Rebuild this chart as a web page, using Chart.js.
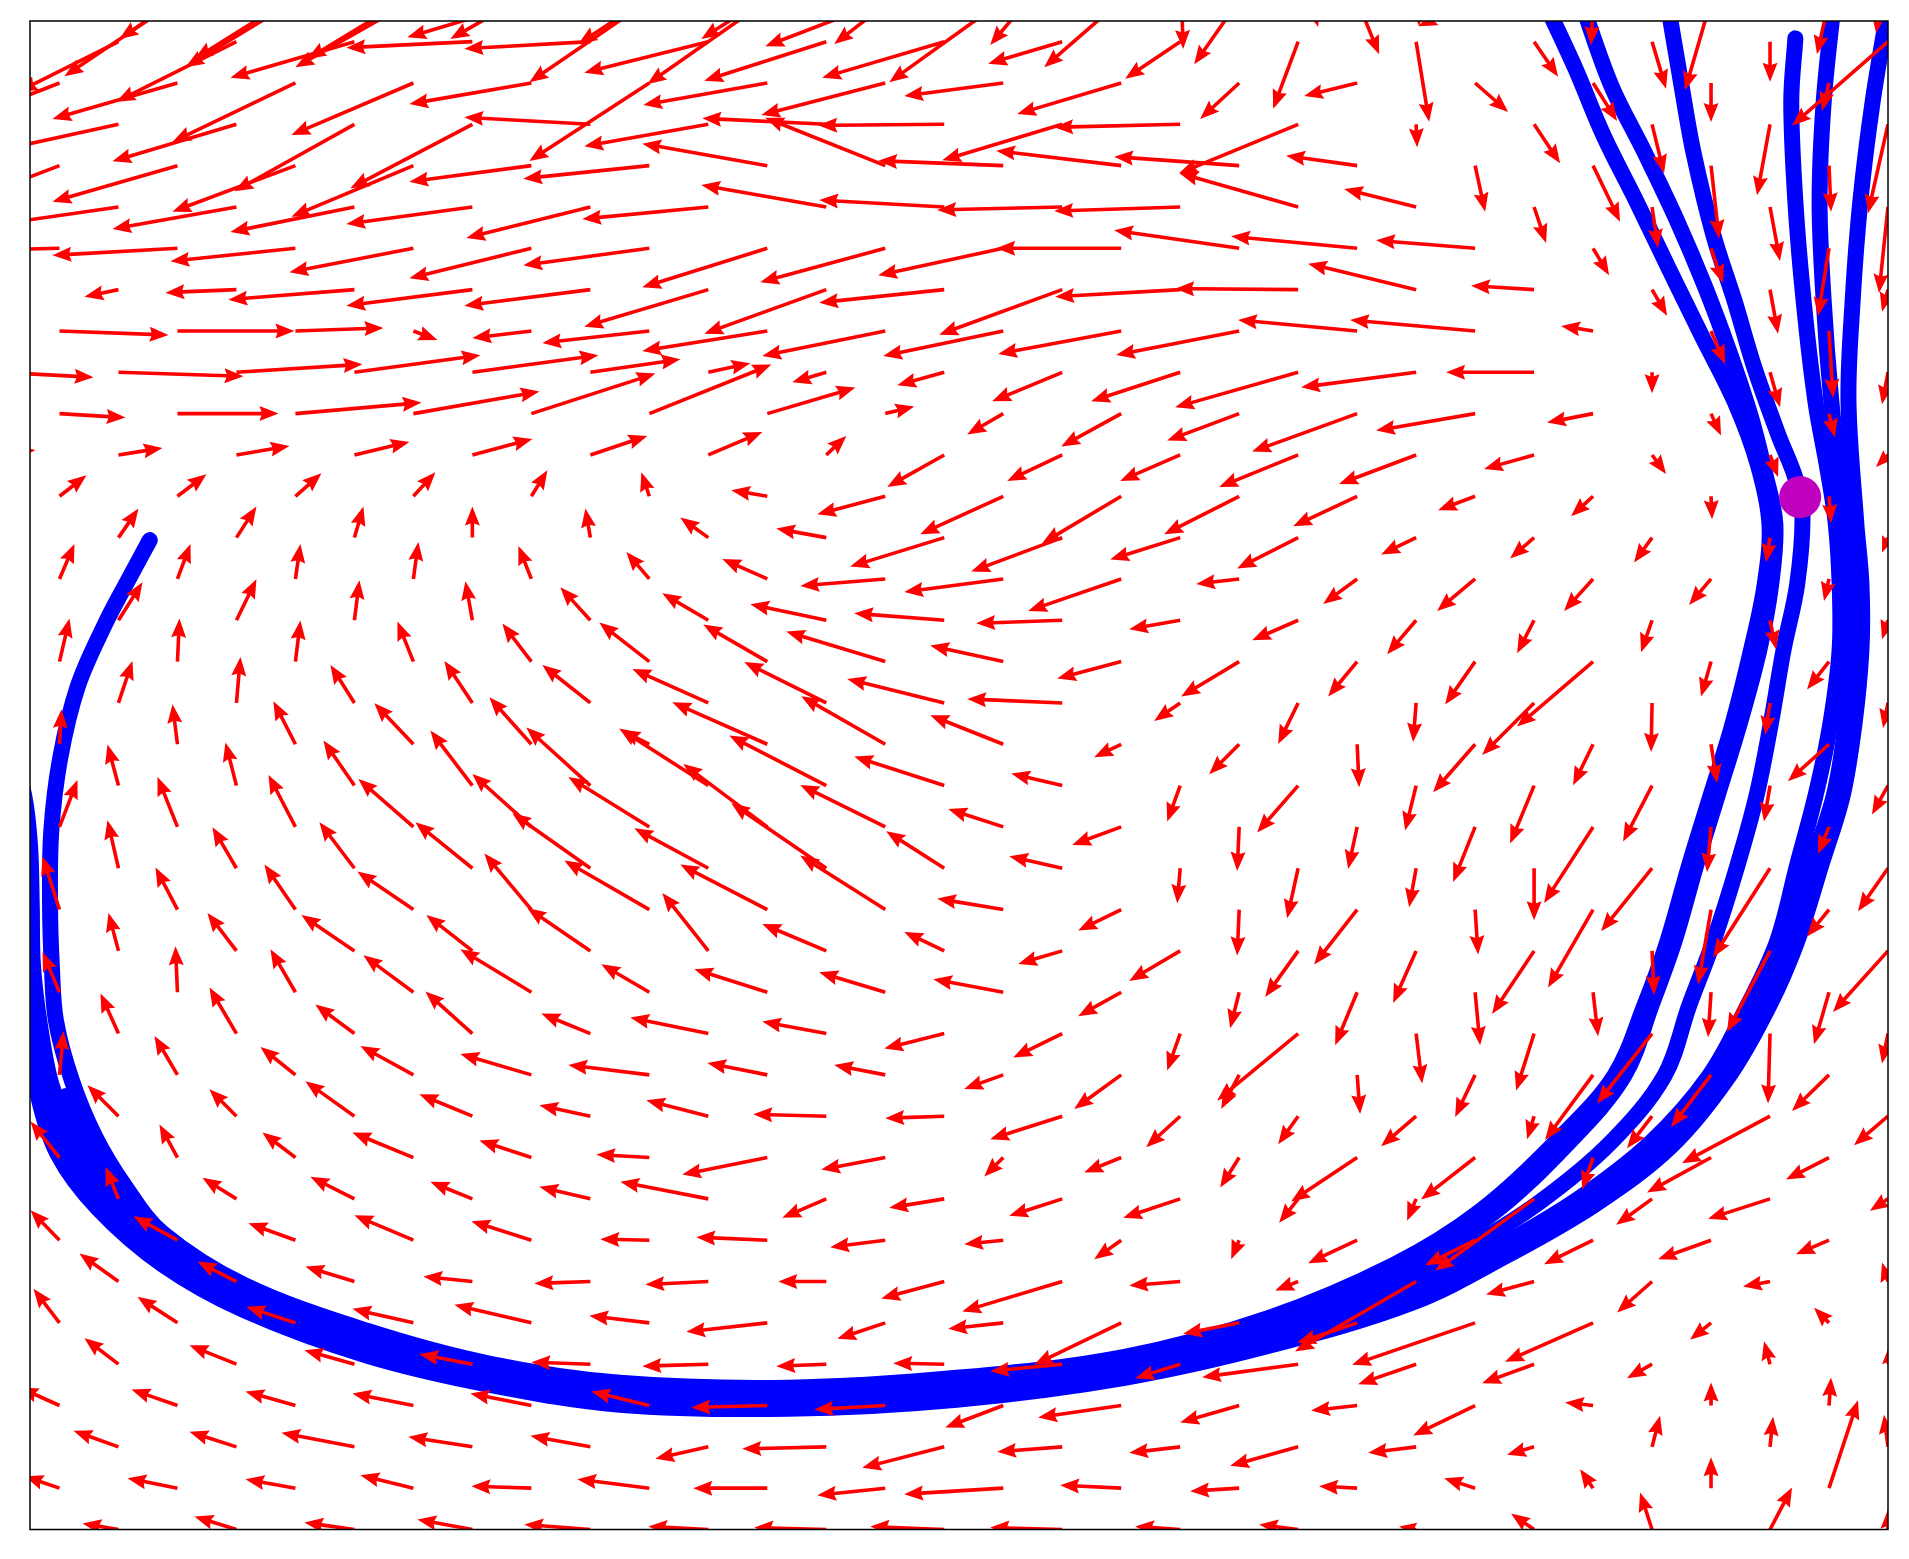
<!DOCTYPE html>
<html>
<head>
<meta charset="utf-8">
<script src="https://cdn.jsdelivr.net/npm/chart.js@4.4.1/dist/chart.umd.min.js"></script>
<style>
html, body { margin: 0; padding: 0; background: #fff; }
canvas { display: block; }
</style>
</head>
<body>
<canvas id="quiverChart" width="1909" height="1559"></canvas>
<script>
// arrow lattice: row index (y, top = -2) and the columns used by even / odd rows
const rows = [-2, -1, 0, 1, 2, 3, 4, 5, 6, 7, 8, 9, 10, 11, 12, 13, 14, 15, 16, 17, 18,
  19, 20, 21, 22, 23, 24, 25, 26, 27, 28, 29, 30, 31, 32, 33, 34, 35, 36];
const evenCols = [0, 2, 4, 6, 8, 10, 12, 14, 16, 18, 20, 22, 24, 26, 28, 30, 32];
const oddCols = [1, 3, 5, 7, 9, 11, 13, 15, 17, 19, 21, 23, 25, 27, 29, 31];

// vector components per row (u to the right, v downwards)
const arrowU = [
  [null, -150, -117, -160, -165, -140, -130, -125, -110, -72, 3, 20, 3, null, null, null, -12],
  [-110, -113, -110, -118, -124, -120, -120, -120, -114, -77, -45, 22, -57, -2, -26, -12],
  [-110, -100, -120, -124, -126, -126, -124, -122, -122, -74, -55, -25, 13, 24, 14, 0, -96],
  [-115, -125, -123, -122, -122, -120, -124, -124, -99, -104, -39, -53, 33, 24, 0, -7],
  [-110, -110, -124, -120, -122, -126, -124, -124, -126, -120, -126, -119, 1, 26, 12, -13, -20],
  [-115, -125, -123, -122, -122, -126, -125, -120, -125, -125, -125, -71, 10, 27, 8, 2],
  [-118, -118, -124, -124, -126, -124, -126, -125, -125, -125, -126, -119, -72, 12, 6, 10, -9],
  [-120, -125, -125, -124, -122, -126, -125, -125, -125, -125, -125, -126, -99, 16, 12, -11],
  [-30, -34, -71, -126, -126, -126, -124, -122, -125, -123, -125, -123, -108, -63, 15, 8, -6],
  [109, 117, 88, 24, -59, -107, -125, -123, -120, -123, -123, -119, -125, -32, 14, 4],
  [93, 125, 126, 126, 126, 90, 42, -34, -47, -70, -89, -123, -115, -88, 0, 10, -6],
  [66, 101, 126, 126, 124, 122, 88, 29, -36, -60, -72, -105, -99, -46, 10, 6],
  [35, 44, 53, 55, 60, 57, 54, 20, -57, -55, -60, -79, -77, -50, 14, 8, -12],
  [27, 29, 26, 22, 16, -8, -36, -68, -83, -79, -75, -64, -37, -22, 1, 2],
  [10, 20, 20, 9, 0, -5, -28, -50, -94, -91, -70, -61, -35, -24, -18, -4, -6],
  [15, 13, 5, 5, -13, -23, -45, -85, -99, -93, -43, -34, -38, -29, -22, -5],
  [20, 24, 20, 5, -7, -30, -46, -76, -90, -86, -51, -46, -29, -17, -11, 6, -6],
  [10, 2, 5, -16, -29, -50, -64, -99, -73, -64, -58, -29, -30, -76, -10, -22],
  [10, 14, 4, -24, -28, -48, -76, -82, -97, -95, -26, -20, -3, -52, -1, -5, -5],
  [2, -5, -22, -39, -42, -28, -95, -84, -73, -27, -30, 2, -42, -20, 6, -41],
  [0, -11, -11, -31, -42, -64, -89, -97, -90, -51, -13, -41, -11, -24, -29, -6, -16],
  [18, -20, -27, -55, -59, -81, -84, -85, -55, -49, -2, -9, -22, -49, -4, -11],
  [0, -11, -24, -35, -57, -78, -74, -95, -58, -53, -3, -11, -7, 0, -51, -57, -30],
  [-17, -22, -31, -56, -47, -85, -87, -85, -66, -43, -2, -43, 3, -45, -13, -22],
  [0, -10, -29, -53, -46, -63, -46, -64, -40, -44, -51, -33, -23, -42, 2, -43, -55],
  [-17, -2, -25, -50, -71, -48, -73, -66, -70, -43, -9, -22, 5, 5, -3, -15],
  [-10, -18, -27, -39, -47, -49, -78, -64, -60, -49, -13, -81, 6, -18, -55, -2, -6],
  [4, -23, -35, -53, -71, -81, -60, -51, -39, -47, -18, 3, -20, -48, -40, -37],
  [-10, -31, -27, -49, -53, -51, -62, -73, -59, -72, -34, -20, -35, -7, -25, -88, -34],
  [-29, -18, -33, -61, -52, -53, -85, -64, -19, -37, -19, -66, -54, -11, -64, -43],
  [-25, -13, -34, -44, -42, -51, -88, -44, -55, -53, -57, -19, -9, -99, -36, -62, -18],
  [-29, -44, -47, -59, -60, -49, -71, -55, -39, -27, -8, -49, -50, -49, -53, -33],
  [-20, -39, -39, -49, -49, -56, -63, -48, -63, -100, -51, -23, -121, -48, -35, -27, -6],
  [-26, -40, -49, -61, -77, -60, -81, -48, -55, -87, -56, -60, -123, -88, -21, -15],
  [-30, -34, -47, -50, -53, -59, -66, -50, -51, -72, -45, -96, -58, -52, -25, -6, 0],
  [-40, -46, -50, -61, -61, -58, -76, -71, -58, -83, -59, -46, -62, -28, 0, 2],
  [-30, -45, -47, -73, -64, -60, -53, -84, -82, -65, -51, -68, -48, -27, 8, 3, -4],
  [-35, -50, -50, -53, -60, -72, -74, -68, -99, -61, -49, -38, -31, -13, 0, 29],
  [-20, -36, -42, -50, -55, -66, -60, -72, -74, -72, -45, -39, -17, -23, -12, 22, 0]
];
const arrowV = [
  [null, 100, 80, 100, 100, 80, 85, 80, 85, 86, 90, 68, 67, null, null, null, 74],
  [60, 76, 67, 67, 37, 82, 84, 46, 82, 67, 64, 54, 26, 45, 90, 54],
  [50, 50, 60, 36, 6, 7, 31, 39, 36, 22, 37, 67, 80, 35, 47, 40, 84],
  [45, 36, 59, 52, 21, 78, 22, 32, 13, 31, 36, 13, 29, 38, 39, 28],
  [25, 24, 37, 67, 64, -7, 22, -6, 1, 36, 3, 49, 23, 39, 49, 71, 89],
  [44, 36, 46, 51, 16, 13, -22, -48, -5, -15, -9, -10, 46, 56, 73, 46],
  [17, 17, 22, 25, 17, 31, 12, -22, -7, 3, 4, -34, -18, 36, 41, 54, 86],
  [3, 7, 13, 24, 30, 17, 39, 34, 27, 0, -18, -12, -8, 27, 35, 68],
  [5, 7, 3, 10, 16, 16, 37, 44, 13, 45, 7, -1, -26, -4, 26, 44, 22],
  [4, 0, -3, 9, 7, 12, 20, 25, 25, 23, 24, -11, -11, -5, 33, 67],
  [5, 4, -8, -17, -17, -13, -9, 10, 13, 29, 29, 35, 15, 0, 21, 35, 32],
  [4, 0, -11, -22, -40, -49, -26, -7, 21, 33, 27, 38, 17, 9, 22, 24],
  [-5, -7, -9, -13, -16, -19, -23, -19, 32, 26, 26, 32, 29, 14, 19, 22, 12],
  [-21, -22, -23, -24, -26, -24, -6, 18, 38, 47, 38, 30, 14, 20, 23, 27],
  [-28, -29, -31, -31, -31, -29, -20, -9, 29, 34, 22, 31, 17, 21, 25, 25, 15],
  [-35, -35, -35, -37, -33, -27, -20, 7, 13, 32, 5, 25, 32, 32, 26, 22],
  [-36, -38, -41, -40, -39, -33, -27, -16, -7, 3, 9, 20, 34, 33, 32, 29, 19],
  [-43, -43, -41, -40, -38, -39, -37, -30, -16, 17, 35, 35, 43, 65, 35, 28],
  [-42, -42, -46, -38, -42, -38, -34, -41, -24, -4, 18, 41, 39, 52, 49, 32, 25],
  [-35, -40, -43, -41, -47, -14, -42, -48, -29, 13, 30, 43, 48, 41, 39, 37],
  [-40, -41, -43, -45, -55, -58, -57, -50, -29, -12, 36, 47, 45, 58, 56, 36, 29],
  [-47, -50, -52, -48, -53, -50, -63, -42, -18, 18, 44, 42, 55, 76, 45, 27],
  [-45, -48, -41, -46, -46, -55, -40, -65, -37, -12, 35, 50, 39, 52, 63, 89, 43],
  [-53, -42, -45, -38, -56, -49, -45, -54, -11, 21, 46, 55, 45, 78, 75, 27],
  [-40, -38, -38, -36, -36, -43, -58, -27, -19, 13, 30, 46, 52, 63, 44, 81, 61],
  [-40, -46, -43, -37, -43, -28, -23, -20, -13, 24, 36, 53, 53, 44, 45, 52],
  [-40, -40, -46, -29, -42, -20, -16, -12, 15, 24, 37, 67, 50, 57, 70, 70, 30],
  [-44, -39, -28, -29, -21, -10, -12, -10, 14, 34, 34, 39, 42, 65, 52, 36],
  [-40, -31, -27, -35, -22, -11, -16, -2, 2, 23, 31, 28, 30, 23, 32, 47, 29],
  [-36, -33, -25, -25, -17, -3, 17, 12, 19, 15, 30, 44, 42, 32, 35, 22],
  [-35, -32, -21, -22, -17, -12, -17, 19, 9, 17, 19, 24, 22, 72, 26, 20, 12],
  [-30, -24, -17, -25, -19, -1, -3, 7, 4, 19, 19, 23, 25, 24, 19, 14],
  [-30, -28, -20, -15, -5, 2, 3, 0, 17, 30, 4, 9, 70, 13, 31, 5, -19],
  [-34, -26, -16, -14, -18, -7, 9, 16, 6, 42, 11, 20, 42, 39, 17, -15],
  [-20, -26, -19, -14, -10, -2, 2, 2, -1, 7, 14, 13, 20, 19, 14, -23, -15],
  [-18, -16, -14, -12, -12, -14, 2, 4, 22, 12, 17, 5, 30, -3, -23, -28],
  [-10, -16, -15, -14, -10, -11, 12, 2, 21, 5, 6, 19, 6, 8, -31, -30, -32],
  [-12, -10, -9, -13, -2, -9, 0, 7, 6, -3, 3, -2, -10, -19, -31, -88],
  [-5, -6, -13, -7, -10, -5, -3, -2, -3, -2, -3, -5, -3, -16, -37, -42, -20]
];

// trajectories, as [x, y] in lattice units
const pathA = [[26.18,-0.95],[26.70,0.65],[27.18,2.28],[27.74,3.88],[28.28,5.48],[28.84,7.11],[29.40,8.71],[29.79,10.22],[29.99,11.67],[29.91,13.13],[29.68,14.71],[29.36,16.53],[28.99,18.25],[28.63,19.92],[28.26,21.77],[27.87,23.32],[27.36,25.02],[26.43,26.53],[25.08,28.30],[23.63,29.59],[21.52,30.87],[19.06,31.82],[16.21,32.33],[13.35,32.57],[10.50,32.45],[8.30,31.99],[6.21,31.19],[4.14,30.09],[2.75,28.83],[2.11,27.69],[1.60,26.48],[1.21,25.14],[0.94,23.69],[0.87,22.35],[0.84,20.90],[0.86,19.12],[1.01,17.35],[1.31,15.60],[1.77,14.10],[2.19,12.96],[2.53,12.06]];
const pathB = [[26.80,-0.95],[27.31,1.07],[27.87,2.67],[28.41,4.29],[28.89,5.90],[29.31,7.50],[29.68,9.10],[29.92,10.46],[30.09,11.67],[30.02,13.13],[29.82,14.71],[29.48,16.53],[29.11,18.25],[28.75,19.92],[28.38,21.77],[27.99,23.32],[27.53,25.02],[26.60,26.62],[25.24,28.42],[23.72,29.71],[21.52,30.99],[19.06,31.91],[16.21,32.42],[13.35,32.67],[10.50,32.55],[8.30,32.08],[6.21,31.31],[4.14,30.22],[2.75,29.00],[1.85,27.81],[1.26,26.60],[0.87,25.26],[0.67,23.81],[0.55,22.35],[0.53,20.90],[0.50,19.44],[0.40,18.23],[0.16,17.01]];
const pathC = [[28.26,-0.95],[28.50,1.07],[28.70,2.67],[29.04,4.68],[29.40,6.28],[29.74,7.91],[30.14,9.51],[30.43,10.56],[30.55,11.43],[30.46,13.13],[30.23,14.71],[30.01,16.53],[29.77,18.25],[29.45,19.92],[29.04,21.77],[28.63,23.32],[28.21,25.02],[27.31,26.62],[26.09,28.08],[24.74,29.30],[23.38,30.31],[21.52,31.16],[19.06,32.06],[16.21,32.57],[13.35,32.81],[10.50,32.69],[8.30,32.23],[6.21,31.45],[4.14,30.36],[2.75,29.15],[1.94,27.93],[1.43,26.72],[1.11,25.51]];
const pathD = [[30.43,-0.08],[30.36,1.45],[30.43,3.88],[30.57,6.28],[30.77,8.71],[30.97,10.31],[31.11,11.60],[31.18,13.13],[31.18,14.71],[31.02,16.53],[30.77,18.25],[30.46,19.92],[30.12,21.77],[29.62,23.32],[28.97,25.02],[27.99,26.62],[26.77,27.98],[25.41,29.15],[23.80,30.36],[21.52,31.36],[19.06,32.18],[16.21,32.69],[13.35,32.93],[10.50,32.81],[8.30,32.33],[6.21,31.58],[4.14,30.51],[2.75,29.34],[1.77,28.06],[1.14,26.72],[0.75,25.26],[0.57,23.81],[0.50,22.11],[0.46,20.41],[0.36,18.95],[0.13,17.74]];
const pathE = [[31.08,-0.95],[30.91,1.45],[30.84,3.88],[30.91,6.28],[31.04,8.71],[31.26,11.60],[31.35,13.13],[31.38,14.71],[31.28,16.53],[31.08,18.25],[30.70,19.92],[30.30,21.77],[29.82,23.32],[29.18,25.02],[28.21,26.67],[26.94,28.08],[25.50,29.30],[23.89,30.46],[21.52,31.50],[19.06,32.30],[16.21,32.84],[13.35,33.06],[10.50,32.96],[8.30,32.45],[6.21,31.75],[4.14,30.65],[2.75,29.54],[1.69,28.18],[1.01,26.84],[0.67,25.39],[0.52,23.81],[0.46,22.11],[0.43,20.41],[0.30,18.95],[0.06,17.74]];
const pathF = [[32.02,-0.95],[31.74,1.45],[31.53,3.88],[31.40,6.28],[31.33,8.71],[31.46,11.60],[31.55,13.13],[31.55,14.71],[31.43,16.53],[31.23,18.25],[30.87,19.92],[30.46,21.77],[29.99,23.32],[29.31,25.02],[28.33,26.72],[27.04,28.13],[25.58,29.34],[23.94,30.51],[21.52,31.55],[19.06,32.33],[16.21,32.86],[13.35,33.08],[10.50,32.98],[8.30,32.50],[6.21,31.79],[4.14,30.70],[2.75,29.59],[1.65,28.23],[0.97,26.92],[0.63,25.46],[0.48,23.81],[0.43,22.11],[0.40,20.41],[0.26,18.95],[0.02,17.74]];

// current state marker
const marker = [[30.51, 11.02]];

const ARROW_COLOR = '#ff0000';
const ARROW_SCALE = 1;     // px per vector unit
const SHAFT_HALF = 1.8;
const HEAD_LEN = 19;
const HEAD_AXIS = 17;
const HEAD_HALF = 7.5;

function drawArrow(ctx, x0, y0, dx, dy) {
    var len = Math.hypot(dx, dy);
    if (len < 0.5) return;
    var s = len < HEAD_LEN ? len / HEAD_LEN : 1;
    var hl = HEAD_LEN * s, ha = HEAD_AXIS * s, hw = HEAD_HALF * s, sw = SHAFT_HALF * s;
    var c = dx / len, sn = dy / len;
    var pts = [[0, -sw], [len - ha, -sw], [len - hl, -hw], [len, 0], [len - hl, hw], [len - ha, sw], [0, sw]];
    ctx.beginPath();
    pts.forEach(function (p, i) {
        var X = x0 + p[0] * c - p[1] * sn;
        var Y = y0 + p[0] * sn + p[1] * c;
        if (i) ctx.lineTo(X, Y); else ctx.moveTo(X, Y);
    });
    ctx.closePath();
    ctx.fill();
}

// quiver field, drawn over the trajectories and under the marker (dataset 0 is drawn last)
const quiverPlugin = {
    id: 'quiver',
    beforeDatasetDraw: function (chart, args) {
        if (args.index !== 0) return;
        var ctx = chart.ctx, a = chart.chartArea, xs = chart.scales.x, ys = chart.scales.y;
        var sx = Math.sign(xs.getPixelForValue(1) - xs.getPixelForValue(0));
        var sy = Math.sign(ys.getPixelForValue(1) - ys.getPixelForValue(0));
        ctx.save();
        ctx.beginPath();
        ctx.rect(a.left, a.top, a.right - a.left, a.bottom - a.top);
        ctx.clip();
        ctx.fillStyle = ARROW_COLOR;
        rows.forEach(function (k, r) {
            var cols = Math.abs(k) % 2 === 0 ? evenCols : oddCols;
            cols.forEach(function (j, c) {
                var u = arrowU[r][c], v = arrowV[r][c];
                if (u === null || v === null) return;
                drawArrow(ctx, xs.getPixelForValue(j), ys.getPixelForValue(k),
                    sx * u * ARROW_SCALE, sy * v * ARROW_SCALE);
            });
        });
        ctx.restore();
    }
};

const framePlugin = {
    id: 'frame',
    afterDraw: function (chart) {
        var ctx = chart.ctx, a = chart.chartArea;
        ctx.save();
        ctx.strokeStyle = '#000';
        ctx.lineWidth = 1.5;
        ctx.strokeRect(a.left, a.top, a.right - a.left, a.bottom - a.top);
        ctx.restore();
    }
};

function toXY(p) { return { x: p[0], y: p[1] }; }
function pathSet(p) {
    return {
        data: p.map(toXY),
        showLine: true,
        borderColor: '#0000ff',
        borderWidth: 16,
        borderCapStyle: 'round',
        borderJoinStyle: 'round',
        tension: 0.35,
        pointRadius: 0,
        fill: false,
        clip: 0
    };
}

var canvas = document.getElementById('quiverChart').getContext('2d');
new Chart(canvas, {
    type: 'scatter',
    data: {
        datasets: [
            {
                data: marker.map(toXY),
                pointRadius: 21,
                pointBackgroundColor: '#bf00bf',
                pointBorderColor: '#bf00bf',
                pointBorderWidth: 0,
                showLine: false
            },
            pathSet(pathA), pathSet(pathB), pathSet(pathC),
            pathSet(pathD), pathSet(pathE), pathSet(pathF)
        ]
    },
    options: {
        responsive: false,
        animation: false,
        devicePixelRatio: 1,
        events: [],
        layout: { padding: { left: 30, right: 19, top: 18.4, bottom: 29.5 } },
        scales: {
            x: { type: 'linear', min: 0.5, max: 32, display: false },
            y: { type: 'linear', min: -0.5, max: 36, reverse: true, display: false }
        },
        plugins: {
            legend: { display: false },
            tooltip: { enabled: false }
        }
    },
    plugins: [quiverPlugin, framePlugin]
});
</script>
</body>
</html>
